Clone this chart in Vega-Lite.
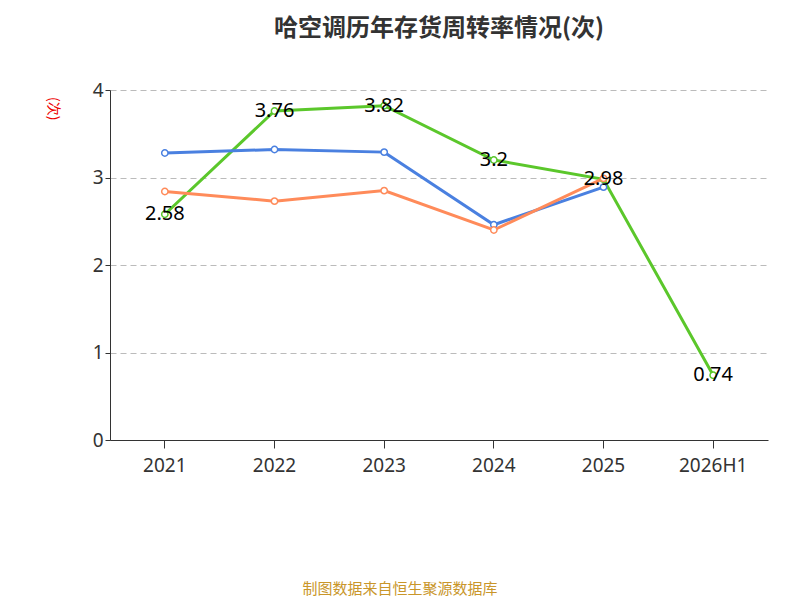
{
  "$schema": "https://vega.github.io/schema/vega-lite/v6.json",
  "width": 658,
  "height": 350,
  "autosize": "none",
  "padding": {"left": 110, "top": 90, "right": 32, "bottom": 160},
  "background": "white",
  "title": {
    "text": "哈空调历年存货周转率情况(次)",
    "fontSize": 24,
    "font": "Noto Sans CJK SC",
    "fontWeight": "bold",
    "color": "#333",
    "anchor": "middle",
    "offset": 40
  },
  "data": {
    "values": [
      {"year": "2021", "series": "公司存货周转率", "v": 2.58},
      {"year": "2022", "series": "公司存货周转率", "v": 3.76},
      {"year": "2023", "series": "公司存货周转率", "v": 3.82},
      {"year": "2024", "series": "公司存货周转率", "v": 3.2},
      {"year": "2025", "series": "公司存货周转率", "v": 2.98},
      {"year": "2026H1", "series": "公司存货周转率", "v": 0.74},
      {"year": "2021", "series": "行业均值", "v": 3.28},
      {"year": "2022", "series": "行业均值", "v": 3.32},
      {"year": "2023", "series": "行业均值", "v": 3.29},
      {"year": "2024", "series": "行业均值", "v": 2.46},
      {"year": "2025", "series": "行业均值", "v": 2.89},
      {"year": "2021", "series": "行业中位数", "v": 2.84},
      {"year": "2022", "series": "行业中位数", "v": 2.73},
      {"year": "2023", "series": "行业中位数", "v": 2.85},
      {"year": "2024", "series": "行业中位数", "v": 2.4},
      {"year": "2025", "series": "行业中位数", "v": 2.99}
    ]
  },
  "encoding": {
    "x": {
      "field": "year", "type": "ordinal", "title": null,
      "scale": {"type": "band"},
      "axis": {"labelAngle": 0, "labelFontSize": 19, "labelFont": "Noto Sans", "labelColor": "#333", "domainColor": "#333", "tickColor": "#333", "labelPadding": 8, "tickSize": 8}
    },
    "y": {
      "field": "v", "type": "quantitative",
      "scale": {"domain": [0, 4]},
      "axis": {"tickCount": 4, "title": "(次)", "titleColor": "#e00", "titleFontSize": 14, "titleFontWeight": "normal", "titleAnchor": "end", "titleAngle": 90, "titleY": 30, "titleX": -65, "labelFontSize": 19, "labelFont": "Noto Sans", "labelColor": "#333", "domain": true, "domainColor": "#333", "tickColor": "#333", "grid": true, "gridDash": [6, 4], "gridColor": "#bbb"}
    }
  },
  "layer": [
    {
      "mark": {"type": "line", "strokeWidth": 3},
      "encoding": {
        "color": {
          "field": "series", "type": "nominal",
          "scale": {"domain": ["公司存货周转率", "行业均值", "行业中位数"], "range": ["#5bc72b", "#4a80e0", "#ff8b5a"]},
          "legend": null
        }
      }
    },
    {
      "mark": {"type": "point", "filled": false, "fill": "white", "fillOpacity": 1, "size": 40, "strokeWidth": 1.5, "opacity": 1},
      "encoding": {
        "color": {
          "field": "series", "type": "nominal",
          "scale": {"domain": ["公司存货周转率", "行业均值", "行业中位数"], "range": ["#5bc72b", "#4a80e0", "#ff8b5a"]},
          "legend": {"title": null, "orient": "none", "direction": "horizontal", "legendX": 0, "legendY": 435, "labelFontSize": 20, "labelColor": "#333", "symbolType": "circle", "symbolFillColor": "white", "symbolStrokeWidth": 2, "symbolSize": 350, "columnPadding": 28, "labelFont": "Noto Sans CJK SC"}
        }
      }
    },
    {
      "transform": [{"filter": "datum.series == '公司存货周转率'"}],
      "mark": {"type": "text", "fontSize": 20, "font": "Noto Sans", "color": "black", "baseline": "middle"},
      "encoding": {"text": {"field": "v", "type": "quantitative"}}
    },
    {
      "data": {"values": [{"t": "制图数据来自恒生聚源数据库"}]},
      "mark": {"type": "text", "fontSize": 15, "color": "#c9962a", "font": "Noto Sans CJK SC"},
      "encoding": {"text": {"field": "t"}, "x": {"value": 290}, "y": {"value": 499}}
    }
  ],
  "config": {"view": {"stroke": null}, "font": "Noto Sans CJK SC"}
}
